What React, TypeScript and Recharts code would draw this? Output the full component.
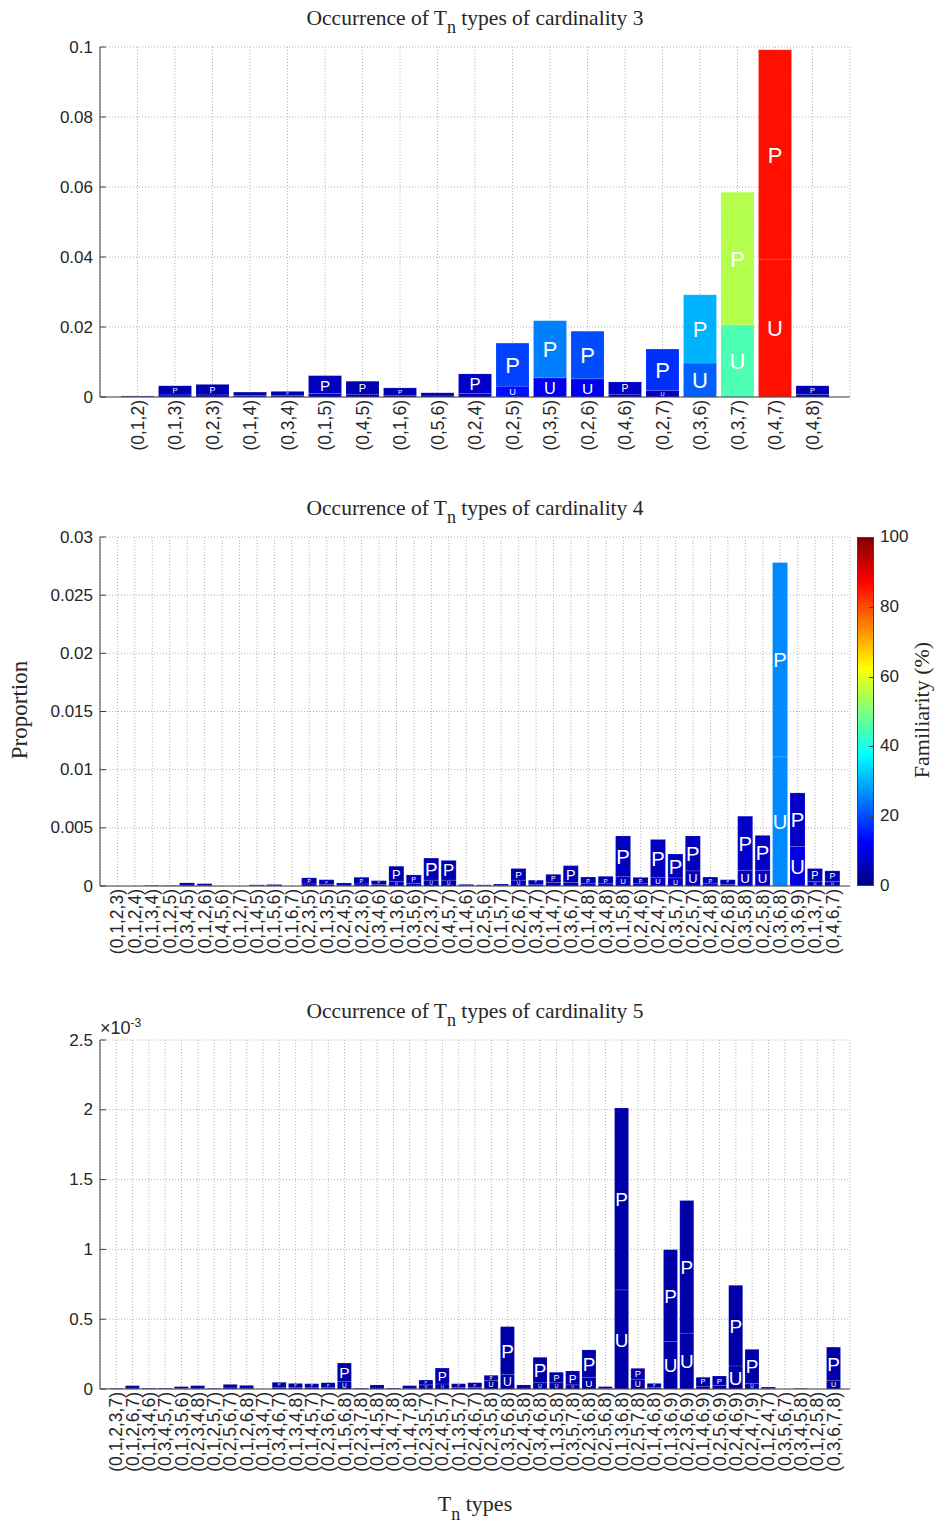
import React from 'react';
import { BarChart, Bar, XAxis, YAxis, CartesianGrid } from 'recharts';

// cardinality 3
const card3Types = ['(0,1,2)', '(0,1,3)', '(0,2,3)', '(0,1,4)', '(0,3,4)', '(0,1,5)', '(0,4,5)', '(0,1,6)', '(0,5,6)', '(0,2,4)',
	'(0,2,5)', '(0,3,5)', '(0,2,6)', '(0,4,6)', '(0,2,7)', '(0,3,6)', '(0,3,7)', '(0,4,7)', '(0,4,8)'];
const card3U = [0.0001, 0.0006, 0.0006, 0.0004, 0.0004, 0.001, 0.0008, 0.0005, 0.0003, 0.001,
	0.0031, 0.0055, 0.0052, 0.0008, 0.0019, 0.0097, 0.0206, 0.0394, 0.0007];
const card3P = [0.0002, 0.0026, 0.003, 0.001, 0.0012, 0.0051, 0.0037, 0.0021, 0.0009, 0.0056,
	0.0123, 0.0163, 0.0136, 0.0035, 0.0118, 0.0195, 0.0379, 0.0598, 0.0025];
const card3FamU = [4, 5, 5, 5, 5, 6, 5, 5, 5, 6, 14, 11, 11, 7, 7, 22, 45, 86, 5];
const card3FamP = [4, 5, 5, 5, 5, 6, 5, 5, 5, 7, 19, 25, 20, 7, 17, 30, 55, 86, 5];
const card3Ticks = [0, 0.02, 0.04, 0.06, 0.08, 0.1];

// cardinality 4
const card4Types = ['(0,1,2,3)', '(0,1,2,4)', '(0,1,3,4)', '(0,1,2,5)', '(0,3,4,5)', '(0,1,2,6)', '(0,4,5,6)', '(0,1,2,7)',
	'(0,1,4,5)', '(0,1,5,6)', '(0,1,6,7)', '(0,2,3,5)', '(0,1,3,5)', '(0,2,4,5)', '(0,2,3,6)', '(0,3,4,6)', '(0,1,3,6)',
	'(0,3,5,6)', '(0,2,3,7)', '(0,4,5,7)', '(0,1,4,6)', '(0,2,5,6)', '(0,1,5,7)', '(0,2,6,7)', '(0,3,4,7)', '(0,1,4,7)',
	'(0,3,6,7)', '(0,1,4,8)', '(0,3,4,8)', '(0,1,5,8)', '(0,2,4,6)', '(0,2,4,7)', '(0,3,5,7)', '(0,2,5,7)', '(0,2,4,8)',
	'(0,2,6,8)', '(0,3,5,8)', '(0,2,5,8)', '(0,3,6,8)', '(0,3,6,9)', '(0,1,3,7)', '(0,4,6,7)'];
const card4U = [0, 0, 0.00001, 0.00001, 0.00007, 0.00005, 0, 0.00001, 0.00003, 0.00003, 0, 0.00018, 0.00014, 0.00007,
	0.00018, 0.00012, 0.0004, 0.00022, 0.0005, 0.0005, 0.00004, 0.00003, 0.00004, 0.0005, 0.00015, 0.0003, 0.0003,
	0.0002, 0.0002, 0.0008, 0.0002, 0.00075, 0.0007, 0.0013, 0.0002, 0.00015, 0.00135, 0.00135, 0.0111, 0.0034,
	0.0004, 0.0004];
const card4P = [0, 0, 0.00004, 0.00003, 0.0002, 0.00015, 0, 0.00002, 0.00007, 0.0001, 0, 0.00052, 0.0004, 0.00019,
	0.00057, 0.00034, 0.0013, 0.00073, 0.0019, 0.0017, 0.0001, 0.00007, 0.00013, 0.001, 0.00035, 0.0007, 0.00145,
	0.00057, 0.00063, 0.0035, 0.00054, 0.00325, 0.00205, 0.003, 0.00057, 0.00039, 0.00465, 0.003, 0.0167, 0.0046,
	0.0011, 0.0009];
const card4FamU = [4, 4, 4, 4, 4, 4, 4, 4, 4, 4, 4, 5, 5, 4, 5, 4, 5, 5, 5, 5, 4, 4, 4, 5, 5, 5, 5,
	5, 5, 6, 5, 6, 6, 6, 5, 5, 7, 7, 26, 10, 5, 5];
const card4FamP = [4, 4, 4, 4, 4, 4, 4, 4, 4, 4, 4, 5, 5, 4, 5, 4, 5, 5, 5, 5, 4, 4, 4, 5, 5, 5, 5,
	5, 5, 6, 5, 6, 6, 6, 5, 5, 7, 7, 26, 7, 5, 5];
const card4Ticks = [0, 0.005, 0.01, 0.015, 0.02, 0.025, 0.03];

// cardinality 5 (values in units of 10^-3)
const card5Types = ['(0,1,2,3,7)', '(0,1,2,6,7)', '(0,1,3,4,6)', '(0,3,4,5,7)', '(0,1,3,5,6)', '(0,2,3,4,8)', '(0,1,2,5,7)',
	'(0,2,5,6,7)', '(0,1,2,6,8)', '(0,1,3,4,7)', '(0,3,4,6,7)', '(0,1,3,4,8)', '(0,1,4,5,7)', '(0,2,3,6,7)', '(0,1,5,6,8)',
	'(0,2,3,7,8)', '(0,1,4,5,8)', '(0,3,4,7,8)', '(0,1,4,7,8)', '(0,2,3,5,7)', '(0,2,4,5,7)', '(0,1,3,5,7)', '(0,2,4,6,7)',
	'(0,2,3,5,8)', '(0,3,5,6,8)', '(0,2,4,5,8)', '(0,3,4,6,8)', '(0,1,3,5,8)', '(0,3,5,7,8)', '(0,2,3,6,8)', '(0,2,5,6,8)',
	'(0,1,3,6,8)', '(0,2,5,7,8)', '(0,1,4,6,8)', '(0,1,3,6,9)', '(0,2,3,6,9)', '(0,1,4,6,9)', '(0,2,5,6,9)', '(0,2,4,6,9)',
	'(0,2,4,7,9)', '(0,1,2,4,7)', '(0,3,5,6,7)', '(0,3,4,5,8)', '(0,1,2,5,8)', '(0,3,6,7,8)'];
const card5U = [0.001, 0.006, 0.002, 0.002, 0.004, 0.006, 0.001, 0.008, 0.006, 0.001, 0.012, 0.01, 0.01, 0.011, 0.055,
	0.002, 0.007, 0.002, 0.006, 0.03, 0.036, 0.01, 0.011, 0.06, 0.103, 0.007, 0.045, 0.045, 0.03, 0.084, 0.004,
	0.71, 0.07, 0.01, 0.34, 0.4, 0.02, 0.025, 0.165, 0.04, 0.003, 0, 0.001, 0, 0.06];
const card5P = [0.004, 0.018, 0.005, 0.005, 0.013, 0.018, 0.004, 0.025, 0.02, 0.002, 0.036, 0.03, 0.028, 0.034, 0.131,
	0.005, 0.022, 0.005, 0.018, 0.034, 0.114, 0.028, 0.034, 0.038, 0.344, 0.022, 0.182, 0.075, 0.099, 0.196, 0.013,
	1.303, 0.078, 0.03, 0.658, 0.95, 0.064, 0.068, 0.578, 0.244, 0.011, 0, 0.004, 0, 0.24];
const card5FamU = [4, 4, 4, 4, 4, 4, 4, 4, 4, 4, 4, 4, 4, 4, 4, 4, 4, 4, 4, 4, 4, 4, 4, 4, 4, 4, 4, 4, 4, 4, 4,
	4, 4, 4, 4, 4, 4, 4, 4, 4, 4, 4, 4, 4, 4];
const card5FamP = [4, 4, 4, 4, 4, 4, 4, 4, 4, 4, 4, 4, 4, 4, 4, 4, 4, 4, 4, 4, 4, 4, 4, 4, 4, 4, 4, 4, 4, 4, 4,
	4, 4, 4, 4, 4, 4, 4, 4, 4, 4, 4, 4, 4, 4];
const card5Ticks = [0, 0.5, 1, 1.5, 2, 2.5];

const colorbarTicks = [0, 20, 40, 60, 80, 100];

const sans = '"Liberation Sans", Arial, sans-serif';
const serif = '"Liberation Serif", "Times New Roman", serif';
const ink = '#262626';
const axisColor = '#404040';
const gridColor = '#b4b4b4';

// matlab jet, f in percent
const jet = (f: number) => {
	const t = f / 100;
	const c = (v: number) => Math.round(255 * Math.max(0, Math.min(1, v)));
	const r = c(1.5 - Math.abs(4 * t - 3));
	const g = c(1.5 - Math.abs(4 * t - 2));
	const b = c(1.5 - Math.abs(4 * t - 1));
	return `rgb(${r},${g},${b})`;
};

const segShape = (famKey: string, letter: string, maxFont: number) => (props: any) => {
	const { x, y, width, height, payload } = props;
	if (!height || height <= 0.3) return <g />;
	const fs = Math.min(maxFont, height * 0.85, width * 1.35);
	return (
		<g>
			<rect x={x} y={y} width={width} height={height} fill={jet(payload[famKey])}
				stroke="#ffffff" strokeOpacity={0.5} strokeWidth={0.6} strokeDasharray="1 1.5" />
			{fs >= 3 && (
				<text x={x + width / 2} y={y + height / 2 + fs * 0.03} textAnchor="middle" dominantBaseline="central"
					fill="#ffffff" fontSize={fs} fontFamily={sans}>{letter}</text>
			)}
		</g>
	);
};

const XTick = (props: any) => {
	const { x, y, payload } = props;
	const ty = y + 3;
	return (
		<text x={x} y={ty} transform={`rotate(-90 ${x} ${ty})`} textAnchor="end" dominantBaseline="central"
			fontSize={17.5} fontFamily={sans} fill={ink}>{payload.value}</text>
	);
};

const YTick = (props: any) => {
	const { x, y, payload } = props;
	return (
		<g>
			<line x1={x} x2={x + 6} y1={y} y2={y} stroke={axisColor} />
			<text x={x - 7} y={y} textAnchor="end" dominantBaseline="central" fontSize={17} fontFamily={sans}
				fill={ink}>{String(payload.value)}</text>
		</g>
	);
};

interface PanelProps {
	types: string[];
	u: number[];
	p: number[];
	famU: number[];
	famP: number[];
	ticks: number[];
	top: number;
	plotH: number;
	maxFont: number;
}

const Panel = ({ types, u, p, famU, famP, ticks, top, plotH, maxFont }: PanelProps) => {
	const step = 750 / (types.length + 1);
	const rows = types.map((name, i) => ({ name, u: u[i], p: p[i], fu: famU[i], fp: famP[i] }));
	const H = 47 + plotH + 95;
	return (
		<div style={{ position: 'absolute', left: 0, top, width: 936, height: H }}>
			<BarChart width={936} height={H} data={rows} margin={{ top: 47, right: 86, bottom: 5, left: 40 }}
				barCategoryGap="6%">
				<CartesianGrid stroke={gridColor} strokeDasharray="1 2" />
				<XAxis dataKey="name" interval={0} height={90} tickSize={0} tickMargin={0} tick={<XTick />}
					padding={{ left: step / 2, right: step / 2 }} axisLine={{ stroke: axisColor }} />
				<YAxis width={60} type="number" domain={[0, ticks[ticks.length - 1]]} ticks={ticks} interval={0}
					tickSize={0} tickMargin={0} tick={<YTick />} axisLine={{ stroke: axisColor }} allowDataOverflow />
				<Bar dataKey="u" stackId="s" isAnimationActive={false} shape={segShape('fu', 'U', maxFont)} />
				<Bar dataKey="p" stackId="s" isAnimationActive={false} shape={segShape('fp', 'P', maxFont)} />
			</BarChart>
		</div>
	);
};

const Title = ({ top, text }: { top: number; text: string }) => (
	<div style={{ position: 'absolute', left: 100, top, width: 750, textAlign: 'center', fontFamily: serif,
		fontSize: 21.5, lineHeight: '21px', color: ink, whiteSpace: 'nowrap' }}>
		Occurrence of T<span style={{ position: 'relative', top: 8, fontSize: 18 }}>n</span> types of cardinality {text}
	</div>
);

const jetStops = [0, 12.5, 37.5, 62.5, 87.5, 100].map((f) => `${jet(f)} ${f}%`).join(', ');

export default function App() {
	return (
		<div style={{ position: 'absolute', left: 0, top: 0, width: 936, height: 1525, background: '#ffffff', fontFamily: sans }}>
			<Panel types={card3Types} u={card3U} p={card3P} famU={card3FamU} famP={card3FamP} ticks={card3Ticks}
				top={0} plotH={350} maxFont={22} />
			<Title top={8} text="3" />

			<Panel types={card4Types} u={card4U} p={card4P} famU={card4FamU} famP={card4FamP} ticks={card4Ticks}
				top={490} plotH={349} maxFont={21} />
			<Title top={498} text="4" />

			<Panel types={card5Types} u={card5U} p={card5P} famU={card5FamU} famP={card5FamP} ticks={card5Ticks}
				top={993} plotH={349} maxFont={20} />
			<Title top={1001} text="5" />
			<div style={{ position: 'absolute', left: 100, top: 1018, fontSize: 18, lineHeight: '20px', color: ink, whiteSpace: 'nowrap' }}>
				×10<span style={{ position: 'relative', top: -7, fontSize: 12 }}>-3</span>
			</div>

			{/* y label */}
			<div style={{ position: 'absolute', left: -80, top: 698, width: 200, textAlign: 'center', fontFamily: serif,
				fontSize: 23, lineHeight: '24px', color: ink, transform: 'rotate(-90deg)' }}>Proportion</div>

			{/* colorbar */}
			<div style={{ position: 'absolute', left: 857, top: 537, width: 17, height: 349,
				background: `linear-gradient(to top, ${jetStops})`, border: `1px solid ${axisColor}`, boxSizing: 'border-box' }} />
			{colorbarTicks.map((v) => (
				<React.Fragment key={v}>
					<div style={{ position: 'absolute', left: 869, top: 886 - (v / 100) * 349, width: 5, height: 1,
						background: v === 0 || v === 100 ? 'transparent' : axisColor }} />
					<div style={{ position: 'absolute', left: 880, top: 886 - (v / 100) * 349 - 10, fontSize: 17,
						lineHeight: '20px', color: ink }}>{v}</div>
				</React.Fragment>
			))}
			<div style={{ position: 'absolute', left: 822, top: 698, width: 200, textAlign: 'center', fontFamily: serif,
				fontSize: 22, lineHeight: '24px', color: ink, transform: 'rotate(-90deg)' }}>Familiarity (%)</div>

			{/* x label */}
			<div style={{ position: 'absolute', left: 100, top: 1493, width: 750, textAlign: 'center', fontFamily: serif,
				fontSize: 22, lineHeight: '22px', color: ink }}>
				T<span style={{ position: 'relative', top: 9, fontSize: 18 }}>n</span> types
			</div>
		</div>
	);
}
